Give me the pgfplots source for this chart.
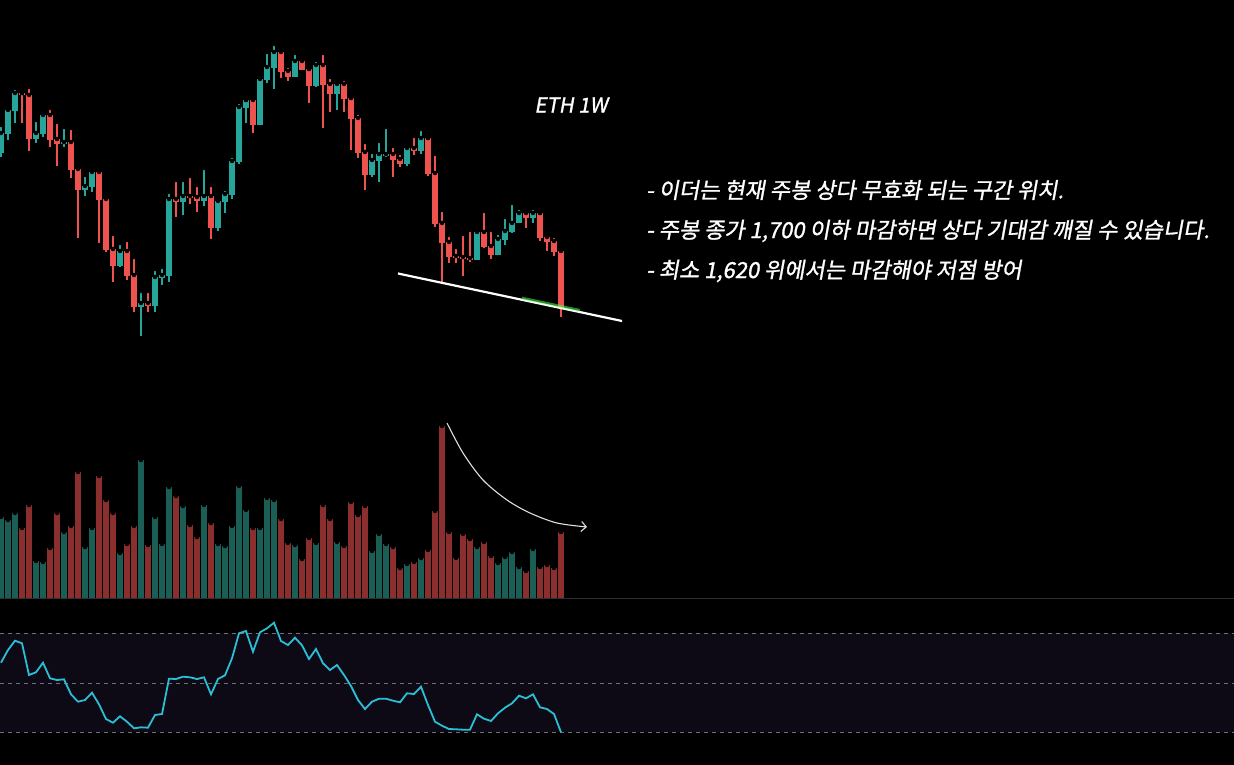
\documentclass[border=0pt]{standalone}
\usepackage{pgfplots}
\pgfplotsset{compat=1.18}
\usepackage{pgfplotstable}
\usepackage{fontspec}
\usetikzlibrary{arrows.meta}
\newfontfamily\kr{Noto Sans CJK KR}[FakeSlant=0.18,FakeBold=1.3]
\definecolor{cg}{HTML}{26A69A}
\definecolor{cr}{HTML}{EF5350}
\definecolor{vg}{HTML}{1B5E56}
\definecolor{vr}{HTML}{8A2E2E}
\definecolor{rsic}{HTML}{2BBFD6}
\definecolor{band}{HTML}{0D0A15}
\definecolor{gridc}{HTML}{6E717A}
\definecolor{sepc}{HTML}{2E2E33}

% candle data in chart pixel rows (o,h,l,c) and volume bar top (v)
\pgfplotstableread{
i o h l c v
0 153 125 157 133 517
1 134 108 140 110 520
2 111 88 123 93 513
5 139 120 143 133 561
6 134 112 137 115 562
9 144 127 147 142 532
12 190 175 196 186 547
13 187 170 192 172 528
17 266 243 267 251 553
20 307 291 336 303 460
22 306 269 312 277 517
23 278 267 285 275 544
24 276 192 282 199 487
26 202 180 215 196 506
29 201 168 206 196 505
31 228 199 231 201 544
32 202 189 213 194 546
33 195 156 199 161 526
34 162 102 164 107 486
35 108 100 123 100 510
37 125 75 125 79 528
38 80 52 83 67 498
39 68 44 89 52 500
42 77 53 77 61 545
45 86 60 87 65 543
48 94 83 110 84 542
53 175 152 177 160 551
54 161 141 182 154 534
55 155 127 157 154 544
58 164 146 166 148 564
60 151 129 154 138 558
68 260 228 260 232 547
71 255 233 255 239 563
72 240 217 245 231 557
73 232 203 233 223 552
74 223 208 223 213 567
76 218 208 223 213 549
}\greentab

\pgfplotstableread{
i o h l c v
3 93 93 123 95 528
4 95 87 151 139 505
7 115 108 147 140 548
8 139 122 166 144 513
10 142 128 178 170 526
11 169 165 238 190 472
14 172 171 243 200 476
15 199 198 252 250 500
16 249 234 282 266 513
18 251 240 280 276 544
19 275 257 312 307 526
21 303 291 312 306 545
25 199 180 217 202 496
27 196 176 204 198 525
28 197 185 212 201 537
30 196 185 239 228 523
36 100 96 133 125 528
40 52 50 78 72 519
41 71 66 81 77 543
43 61 57 70 70 559
44 69 69 103 86 538
46 65 53 128 85 505
47 84 77 112 94 519
49 84 79 112 99 546
50 98 98 150 119 502
51 118 113 158 153 515
52 152 142 190 175 506
56 154 146 177 160 547
57 159 153 167 164 568
59 148 136 155 151 562
61 138 138 176 174 550
62 173 154 227 224 511
63 223 210 282 243 426
64 242 235 263 257 532
65 256 247 263 258 558
66 257 234 276 259 534
67 258 230 262 259 539
69 232 211 248 247 542
70 246 230 259 255 556
75 213 209 228 218 571
77 213 213 241 238 567
78 237 234 251 242 565
79 241 236 256 252 568
80 251 248 317 308 532
}\redtab

\pgfplotstableread{
i r
0 662.7
1 650
2 640.7
3 643.3
4 675
5 672.3
6 662.7
7 678.3
8 680
9 679.3
10 694.3
11 701.7
12 700
13 692.7
14 704.3
15 719
16 722.7
17 716.3
18 721.7
19 728.3
20 727.3
21 727.7
22 715
23 714
24 678.7
25 679
26 676.7
27 677.3
28 679
29 677.3
30 694.3
31 679
32 675.3
33 658.3
34 633.3
35 631
36 651.7
37 632.3
38 628.3
39 622.7
40 641
41 645
42 637.7
43 645.3
44 659
45 649
46 663.3
47 670
48 665
49 675
50 686
51 700
52 709
53 701.7
54 698.7
55 698.7
56 700.7
57 702.3
58 693.3
59 694
60 686.7
61 705
62 721.7
63 725.7
64 729
65 729.3
66 729.7
67 729.7
68 714.3
69 718.7
70 721
71 713.3
72 707.7
73 703.3
74 695.7
75 698.3
76 694.3
77 707.3
78 709
79 714
80 732.3
}\rsitab

\pgfplotsset{
  seg/.style n args={2}{only marks, mark=none,
    error bars/.cd, y dir=plus, y explicit, error mark=none,
    error bar style={solid, draw=#1, line width=#2}},
}

\begin{document}
\begin{tikzpicture}
\begin{axis}[
  scale only axis, width=1234pt, height=765pt,
  xmin=0, xmax=1234, ymin=0, ymax=765, y dir=reverse,
  axis line style={draw=none}, ticks=none,
  axis background/.style={fill=black},
  clip=true,
]
% RSI band and levels
\addplot[draw=none, fill=band] coordinates {(0,633) (1234,633) (1234,732) (0,732)} -- cycle;
\addplot[gridc, line width=0.9pt, dash pattern=on 4pt off 4pt] coordinates {(0,633) (1234,633)};
\addplot[gridc, line width=0.9pt, dash pattern=on 4pt off 4pt] coordinates {(0,683) (1234,683)};
\addplot[gridc, line width=0.9pt, dash pattern=on 4pt off 4pt] coordinates {(0,732) (1234,732)};
% pane separator
\addplot[sepc, line width=1pt] coordinates {(0,598.5) (1234,598.5)};

% volume
\addplot[seg={vg}{6pt}] table[x expr=1+7*\thisrow{i}, y=v, y error plus expr=598-\thisrow{v}] {\greentab};
\addplot[seg={vr}{6pt}] table[x expr=1+7*\thisrow{i}, y=v, y error plus expr=598-\thisrow{v}] {\redtab};

% candles: wicks
\addplot[seg={cg}{1.2pt}] table[x expr=1+7*\thisrow{i}, y=h, y error plus expr=\thisrow{l}-\thisrow{h}] {\greentab};
\addplot[seg={cr}{1.2pt}] table[x expr=1+7*\thisrow{i}, y=h, y error plus expr=\thisrow{l}-\thisrow{h}] {\redtab};
% candles: bodies
\addplot[seg={cg}{5.4pt}] table[x expr=1+7*\thisrow{i}, y expr={min(\thisrow{o},\thisrow{c})}, y error plus expr={max(abs(\thisrow{o}-\thisrow{c}),1.8)}] {\greentab};
\addplot[seg={cr}{5.4pt}] table[x expr=1+7*\thisrow{i}, y expr={min(\thisrow{o},\thisrow{c})}, y error plus expr={max(abs(\thisrow{o}-\thisrow{c}),1.8)}] {\redtab};

% trendline
\addplot[white, line width=2.2pt] coordinates {(398,273.5) (622,321)};
\addplot[green!70!white, line width=2.6pt, opacity=0.55] coordinates {(522,298) (580,310.3)};

% volume arrow
\addplot[white!88!black, line width=1.1pt, smooth, -{Straight Barb[length=5pt,width=10pt]}] coordinates {(447,423) (463,453) (483,480) (507,500) (530,513) (557,523) (587,527)};

% RSI
\addplot[rsic, line width=1.8pt] table[x expr=1+7*\thisrow{i}, y=r] {\rsitab};

% texts
\node[text=white, inner sep=0pt] at (axis cs:571,105) {\kr\fontsize{20.5}{24}\selectfont ETH 1W};
\node[anchor=west, text=white, inner sep=0pt] at (axis cs:646,190) {\kr\fontsize{22}{26}\selectfont - 이더는 현재 주봉 상다 무효화 되는 구간 위치.};
\node[anchor=west, text=white, inner sep=0pt] at (axis cs:646,231) {\kr\fontsize{22}{26}\selectfont - 주봉 종가 1,700 이하 마감하면 상다 기대감 깨질 수 있습니다.};
\node[anchor=west, text=white, inner sep=0pt] at (axis cs:646,271) {\kr\fontsize{22}{26}\selectfont - 최소 1,620 위에서는 마감해야 저점 방어};
\end{axis}
\pgfresetboundingbox
\path[use as bounding box] (0,0) rectangle (1234pt,765pt);
\end{tikzpicture}
\end{document}
